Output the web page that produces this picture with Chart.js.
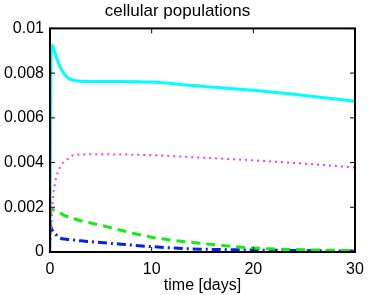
<!DOCTYPE html>
<html>
<head>
<meta charset="utf-8">
<script src="https://cdn.jsdelivr.net/npm/chart.js@4"></script>
<style>
  body { margin: 0; background: #fff; }
  #wrap { width: 392px; height: 295px; }
</style>
</head>
<body>
<div id="wrap"><canvas id="popChart" width="392" height="295"></canvas></div>
<script>
// time points [days]
const times = [0, 0.1, 0.25, 0.5, 1, 1.6, 2.3, 3, 4, 5, 7, 10, 14, 20, 25, 30];

// cell populations
const cyanCells = [0, 0.0086, 0.00924, 0.0089, 0.00827, 0.00785, 0.00768, 0.00764, 0.00763, 0.00763, 0.00763, 0.0076, 0.00745, 0.00723, 0.007, 0.00674];
const magentaCells = [0, 0.0009, 0.0022, 0.0031, 0.0038, 0.0041, 0.00433, 0.00436, 0.00437, 0.00437, 0.00436, 0.00433, 0.00424, 0.0041, 0.00395, 0.00378];
const greenCells = [0.001, 0.0019, 0.0019, 0.00185, 0.00174, 0.0016, 0.0015, 0.0014, 0.0013, 0.0012, 0.00097, 0.00066, 0.00043, 0.00018, 0.0001, 0.00006];
const blueCells = [0.0013, 0.0011, 0.00095, 0.00082, 0.00062, 0.00057, 0.00054, 0.0005, 0.00046, 0.00042, 0.00035, 0.00024, 0.00014, 0.00009, 0.00006, 0.00004];

const xTicks = [0, 10, 20, 30];
const yTicks = [0, 0.002, 0.004, 0.006, 0.008, 0.01];
const yTickLabels = ['0', '0.002', '0.004', '0.006', '0.008', '0.01'];

function toPoints(values) {
    return times.map((t, i) => ({ x: t, y: values[i] }));
}

// frame and inward tick marks, gnuplot style
const framePlugin = {
    id: 'frame',
    afterDraw(chart) {
        const ctx = chart.ctx;
        const area = chart.chartArea;
        const xs = chart.scales.x;
        const ys = chart.scales.y;
        const len = 5;
        ctx.save();
        ctx.strokeStyle = '#000';
        ctx.lineWidth = 1;
        ctx.beginPath();
        xTicks.forEach(v => {
            const px = xs.getPixelForValue(v);
            ctx.moveTo(px, area.bottom);
            ctx.lineTo(px, area.bottom - len);
            ctx.moveTo(px, area.top);
            ctx.lineTo(px, area.top + len);
        });
        yTicks.forEach(v => {
            const py = ys.getPixelForValue(v);
            ctx.moveTo(area.left, py);
            ctx.lineTo(area.left + len, py);
            ctx.moveTo(area.right, py);
            ctx.lineTo(area.right - len, py);
        });
        ctx.stroke();
        ctx.lineWidth = 2;
        ctx.strokeRect(area.left, area.top, area.right - area.left, area.bottom - area.top);
        ctx.restore();
    }
};

Chart.defaults.font.family = '"Liberation Sans", Arial, sans-serif';
Chart.defaults.font.size = 16;
Chart.defaults.color = '#000';

const ctx = document.getElementById('popChart').getContext('2d');
new Chart(ctx, {
    type: 'scatter',
    data: {
        datasets: [
            {
                data: toPoints(magentaCells),
                borderColor: '#ff33ff',
                borderWidth: 2,
                borderDash: [2, 4],
            },
            {
                data: toPoints(greenCells),
                borderColor: '#11ee11',
                borderWidth: 3,
                borderDash: [9, 6],
            },
            {
                data: toPoints(blueCells),
                borderColor: '#0022ee',
                borderWidth: 3,
                borderDash: [9, 4, 2, 4],
            },
            {
                data: toPoints(cyanCells),
                borderColor: '#00ffff',
                borderWidth: 3,
            }
        ]
    },
    options: {
        responsive: false,
        animation: false,
        showLine: true,
        elements: {
            point: { radius: 0 },
            line: { cubicInterpolationMode: 'monotone', fill: false }
        },
        layout: { padding: { left: 0, right: 37, top: 0, bottom: 0 } },
        scales: {
            x: {
                type: 'linear',
                min: 0,
                max: 30,
                grid: { display: false, drawTicks: false },
                border: { display: false },
                ticks: {
                    stepSize: 10,
                    padding: 8,
                    maxRotation: 0,
                    callback: v => (xTicks.includes(v) ? String(v) : '')
                },
                title: { display: true, text: 'time [days]', padding: 0 },
                afterFit: scale => { scale.height = 43; }
            },
            y: {
                min: 0,
                max: 0.01,
                grid: { display: false, drawTicks: false },
                border: { display: false },
                ticks: {
                    stepSize: 0.002,
                    padding: 6,
                    callback: (v, i) => yTickLabels[i]
                },
                afterFit: scale => { scale.width = 50; }
            }
        },
        plugins: {
            legend: { display: false },
            tooltip: { enabled: false },
            title: {
                display: true,
                text: 'cellular populations',
                font: { size: 17, weight: 'normal' },
                padding: { top: 1, bottom: 7 }
            }
        }
    },
    plugins: [framePlugin]
});
</script>
</body>
</html>
